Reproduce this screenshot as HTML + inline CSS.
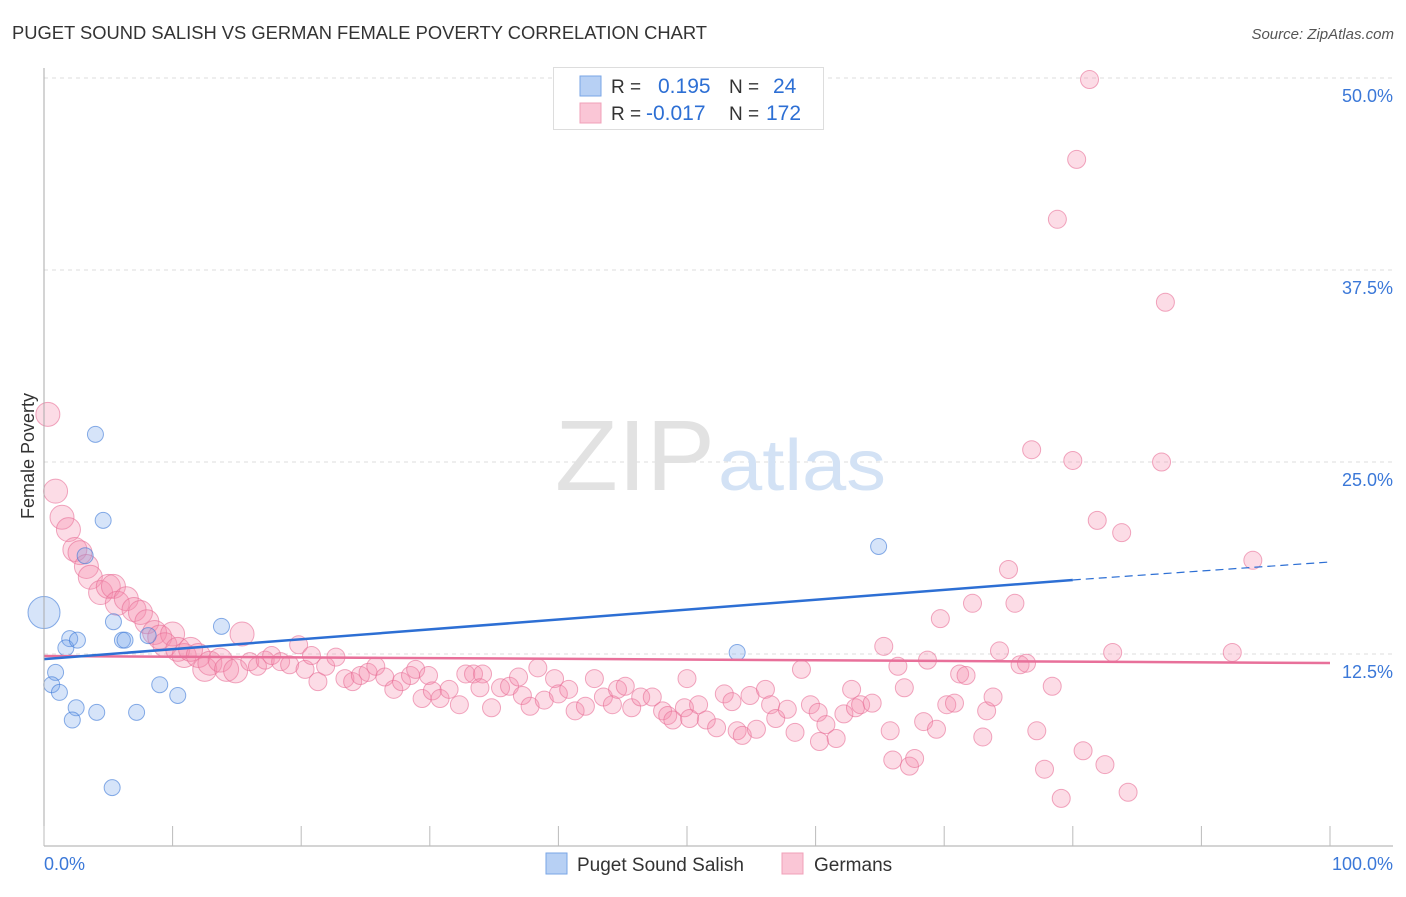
<!DOCTYPE html>
<html><head><meta charset="utf-8"><style>
body{margin:0;background:#fff;font-family:"Liberation Sans",sans-serif;}
svg text{font-family:"Liberation Sans",sans-serif;}
</style></head><body>
<svg id="chart" width="1406" height="892">
<text x="12" y="39" font-size="18" fill="#333" textLength="695" lengthAdjust="spacingAndGlyphs">PUGET SOUND SALISH VS GERMAN FEMALE POVERTY CORRELATION CHART</text>
<text x="1394" y="39" font-size="15" fill="#555" text-anchor="end" font-style="italic">Source: ZipAtlas.com</text>
<g id="grid"></g>
<text x="555" y="490" font-size="100" fill="#e2e2e2" textLength="160" lengthAdjust="spacingAndGlyphs" font-family="Liberation Serif">ZIP</text>
<text x="718" y="490" font-size="72" fill="#d3e2f5" textLength="168" lengthAdjust="spacingAndGlyphs">atlas</text>
<g id="pts"></g>
<g id="lines"></g>
<g id="axes"></g>
<text x="34" y="456" font-size="18" fill="#333" text-anchor="middle" transform="rotate(-90 34 456)">Female Poverty</text>
<g>
<rect x="553.5" y="67.5" width="270" height="62" fill="#fff" stroke="#ddd"/>
<rect x="580" y="76" width="21" height="20" fill="#b7d0f4" stroke="#7aa6e6"/>
<rect x="580" y="103" width="21" height="20" fill="#fac6d6" stroke="#f0a0b8"/>
<text x="611" y="93" font-size="19" fill="#333">R =</text><text x="658" y="93" font-size="21" fill="#2d6fd4">0.195</text>
<text x="729" y="93" font-size="19" fill="#333">N =</text><text x="773" y="93" font-size="21" fill="#2d6fd4">24</text>
<text x="611" y="120" font-size="19" fill="#333">R =</text><text x="646" y="120" font-size="21" fill="#2d6fd4">-0.017</text>
<text x="729" y="120" font-size="19" fill="#333">N =</text><text x="766" y="120" font-size="21" fill="#2d6fd4">172</text>
</g>
<g>
<rect x="546" y="853" width="21" height="21" fill="#b7d0f4" stroke="#7aa6e6"/>
<text x="577" y="871" font-size="19" fill="#333">Puget Sound Salish</text>
<rect x="782" y="853" width="21" height="21" fill="#fac6d6" stroke="#f0a0b8"/>
<text x="814" y="871" font-size="19" fill="#333">Germans</text>
</g>
</svg>
<script>
const yTicks=[12.5,25,37.5,50];
const yTickLabels=["12.5%","25.0%","37.5%","50.0%"];
const xLabels=["0.0%","100.0%"];
const blueX=[0,0.9,0.6,1.2,2.0,1.7,2.6,2.5,2.2,4.1,4.0,4.6,3.2,5.4,6.1,6.3,7.2,5.3,8.1,9.0,10.4,13.8,53.9,64.9];
const blueY=[15.2,11.3,10.5,10.0,13.5,12.9,13.4,9.0,8.2,8.7,26.8,21.2,18.9,14.6,13.4,13.4,8.7,3.8,13.7,10.5,9.8,14.3,12.6,19.5];
const pinkX=[0.3,0.9,1.4,1.9,2.4,2.8,3.3,3.6,4.4,5.0,5.4,5.7,6.4,7.0,7.5,8.0,8.6,9.0,10.0,9.4,10.4,10.9,11.4,12.0,12.5,12.9,13.7,14.2,14.9,15.4,16.0,16.6,17.2,17.7,18.4,19.1,19.8,20.3,20.8,21.3,21.9,22.7,23.4,24.0,24.6,25.2,25.8,26.5,27.2,27.8,28.5,28.9,29.9,29.4,30.2,30.8,31.5,32.3,32.8,33.4,34.1,33.9,34.8,35.5,36.2,36.9,37.2,37.8,38.4,38.9,39.7,40.0,40.8,41.3,42.1,42.8,43.5,44.2,44.6,45.2,45.7,46.4,47.3,48.1,48.5,50.0,49.8,48.9,50.2,50.9,51.5,52.3,52.9,53.5,53.9,54.3,55.4,54.9,56.1,56.5,56.9,58.4,57.8,58.9,59.6,60.2,60.3,60.8,61.6,62.2,62.8,63.1,63.5,64.4,65.3,66.0,66.4,66.9,65.8,67.3,67.7,68.4,68.7,69.4,69.7,70.2,70.8,71.2,71.7,72.2,73.0,73.3,73.8,74.3,75.0,75.5,75.9,76.4,76.8,77.2,77.8,78.4,78.8,79.1,80.0,80.3,80.8,81.3,81.9,82.5,83.1,83.8,84.3,86.9,87.2,92.4,94.0];
const pinkY=[28.1,23.1,21.4,20.6,19.3,19.1,18.2,17.5,16.5,16.9,16.9,15.8,16.1,15.4,15.2,14.6,13.9,13.6,13.8,13.1,12.8,12.4,12.8,12.4,11.5,11.9,12.1,11.5,11.4,13.8,12.0,11.7,12.1,12.4,12.0,11.8,13.1,11.5,12.4,10.7,11.7,12.3,10.9,10.7,11.1,11.3,11.7,11.0,10.2,10.7,11.1,11.5,11.1,9.6,10.1,9.6,10.2,9.2,11.2,11.2,11.2,10.3,9.0,10.3,10.4,11.0,9.8,9.1,11.6,9.5,10.9,9.9,10.2,8.8,9.1,10.9,9.7,9.2,10.2,10.4,9.0,9.7,9.7,8.8,8.5,10.9,9.0,8.2,8.3,9.2,8.2,7.7,9.9,9.4,7.5,7.2,7.6,9.8,10.2,9.2,8.3,7.4,8.9,11.5,9.2,8.7,6.8,7.9,7.0,8.6,10.2,9.0,9.2,9.3,13.0,5.6,11.7,10.3,7.5,5.2,5.7,8.1,12.1,7.6,14.8,9.2,9.3,11.2,11.1,15.8,7.1,8.8,9.7,12.7,18.0,15.8,11.8,11.9,25.8,7.5,5.0,10.4,40.8,3.1,25.1,44.7,6.2,49.9,21.2,5.3,12.6,20.4,3.5,25.0,35.4,12.6,18.6];
const blueTrend=[12.17,17.32,18.49];
const blueTrendX=[0,80,100];
const pinkTrend=[12.37,11.91];
const pinkTrendX=[0,100];

const NS="http://www.w3.org/2000/svg";
const X0=44,X1=1330,Y0=846,YPX=192/12.5;
const sx=v=>X0+(X1-X0)*v/100;
const sy=v=>Y0-v*YPX;
function mk(tag,attrs,parent){const e=document.createElementNS(NS,tag);for(const k in attrs)e.setAttribute(k,attrs[k]);parent.appendChild(e);return e;}
const grid=document.getElementById('grid'),axes=document.getElementById('axes'),pts=document.getElementById('pts'),lines=document.getElementById('lines');
yTicks.forEach((t,i)=>{
  const l=mk('line',{x1:X0,x2:1393,y1:sy(t),y2:sy(t),stroke:'#ddd','stroke-dasharray':'4,4'},grid);
  
  
  const tx=mk('text',{x:1393,y:sy(t)+24,'font-size':18,fill:'#3b78d8','text-anchor':'end'},axes);
  tx.textContent=yTickLabels[i];
  
  
});
const ax=mk('line',{x1:X0,x2:X0,y1:68,y2:Y0,stroke:'#aaa'},axes);


const bx=mk('line',{x1:X0,x2:1393,y1:Y0,y2:Y0,stroke:'#aaa'},axes);


for(let i=0;i<=10;i++){
  const t=mk('line',{x1:sx(i*10),x2:sx(i*10),y1:Y0,y2:Y0-20,stroke:'#bbb'},axes);
  
  
}
const xl0=mk('text',{x:44,y:870,'font-size':18,fill:'#3b78d8'},axes);xl0.textContent=xLabels[0];


const xl1=mk('text',{x:1393,y:870,'font-size':18,fill:'#3b78d8','text-anchor':'end'},axes);xl1.textContent=xLabels[1];



pinkX.forEach((x,i)=>{
  const r=x<16?12:9;
  const c=mk('circle',{cx:sx(x),cy:sy(pinkY[i]),r:r,fill:'rgba(244,140,172,0.3)',stroke:'rgba(232,110,150,0.6)','stroke-width':1},pts);
  
  
});
blueX.forEach((x,i)=>{
  const r=i===0?16:8;
  const c=mk('circle',{cx:sx(x),cy:sy(blueY[i]),r:r,fill:'rgba(120,165,235,0.3)',stroke:'rgba(60,120,215,0.6)','stroke-width':1},pts);
  
  
});
const pl=mk('line',{x1:sx(pinkTrendX[0]),y1:sy(pinkTrend[0]),x2:sx(pinkTrendX[1]),y2:sy(pinkTrend[1]),stroke:'#e8709a','stroke-width':2.5},lines);


const bl=mk('line',{x1:sx(blueTrendX[0]),y1:sy(blueTrend[0]),x2:sx(blueTrendX[1]),y2:sy(blueTrend[1]),stroke:'#2d6fd4','stroke-width':2.5},lines);


const bd=mk('line',{x1:sx(blueTrendX[1]),y1:sy(blueTrend[1]),x2:sx(blueTrendX[2]),y2:sy(blueTrend[2]),stroke:'#2d6fd4','stroke-width':1.2,'stroke-dasharray':'8,5'},lines);


</script>
</body></html>
